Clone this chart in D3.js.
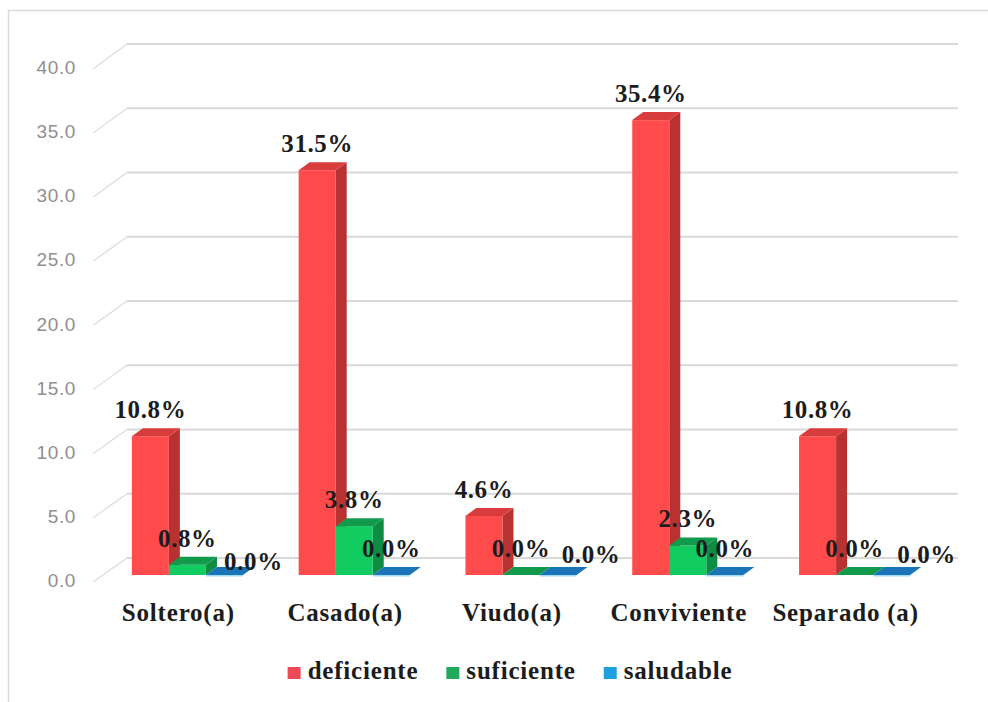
<!DOCTYPE html>
<html>
<head>
<meta charset="utf-8">
<script src="https://cdn.jsdelivr.net/npm/d3@7"></script>
<style>
  html, body { margin: 0; padding: 0; background: #fff; }
  svg { display: block; }
</style>
</head>
<body>
<svg id="chart" width="988" height="702"></svg>
<script>
// Estado civil vs. nivel (porcentajes)
const categories = ["Soltero(a)", "Casado(a)", "Viudo(a)", "Conviviente", "Separado (a)"];
const seriesNames = ["deficiente", "suficiente", "saludable"];
const deficiente = [10.8, 31.5, 4.6, 35.4, 10.8];
const suficiente = [0.8, 3.8, 0.0, 2.3, 0.0];
const saludable = [0.0, 0.0, 0.0, 0.0, 0.0];
const yTicks = [0, 5, 10, 15, 20, 25, 30, 35, 40];

const seriesValues = [deficiente, suficiente, saludable];

// face colours per series: front, side, top
const palette = {
  deficiente: { front: "#ff4b4b", side: "#b83232", top: "#d93c3c", legend: "#ec4a57" },
  suficiente: { front: "#12cc62", side: "#0e8c44", top: "#119a4c", legend: "#21a95c" },
  saludable:  { front: "#1e86c8", side: "#15649a", top: "#1b74b8", legend: "#1e9fe0" }
};

const svg = d3.select("#chart");

// outer frame
svg.append("rect")
  .attr("x", 8.5).attr("y", 10.5)
  .attr("width", 1000).attr("height", 720)
  .attr("fill", "#fff").attr("stroke", "#d9d9d9").attr("stroke-width", 1.5);

// scales: back wall, front axis plane, and the bars' own plane
const yBack = d3.scaleLinear().domain([0, 40]).range([558, 44]);
const yFront = d3.scaleLinear().domain([0, 40]).range([582, 69]);
const yBar = d3.scaleLinear().domain([0, 40]).range([575, 61]);

const x0 = d3.scaleBand().domain(categories).range([104, 938])
  .paddingInner(0.334).paddingOuter(0.167);
const x1 = d3.scaleBand().domain(seriesNames).range([0, x0.bandwidth()]);

const depthX = 11, depthY = -8;

// back-wall gridlines with the perspective stubs toward the tick labels
const grid = svg.append("g");
grid.selectAll("line.back").data(yTicks).join("line")
  .attr("class", "back")
  .attr("x1", 127).attr("x2", 958)
  .attr("y1", d => yBack(d)).attr("y2", d => yBack(d))
  .attr("stroke", "#d9d9d9").attr("stroke-width", 2);
grid.selectAll("line.stub").data(yTicks).join("line")
  .attr("class", "stub")
  .attr("x1", 93).attr("x2", 127)
  .attr("y1", d => yFront(d)).attr("y2", d => yBack(d))
  .attr("stroke", "#dcdcdc").attr("stroke-width", 1.2);

// y tick labels
svg.append("g").selectAll("text").data(yTicks).join("text")
  .attr("x", 76).attr("y", d => yFront(d))
  .attr("text-anchor", "end").attr("dominant-baseline", "middle")
  .attr("font-family", "'Liberation Sans', Arial, sans-serif")
  .attr("font-size", 19).attr("letter-spacing", 0.6)
  .attr("fill", "#8f8f8f")
  .text(d => d3.format(".1f")(d));

// bars: front face, right side face and top face
const bars = [];
categories.forEach((c, ci) => {
  seriesNames.forEach((s, si) => {
    bars.push({ cat: c, series: s, value: seriesValues[si][ci] });
  });
});

const barG = svg.append("g");
bars.forEach(b => {
  const xl = x0(b.cat) + x1(b.series);
  const w = x1.bandwidth();
  const yt = yBar(b.value);
  const yb = yBar(0);
  const col = palette[b.series];
  const g = barG.append("g");
  if (b.value > 0) {
    g.append("path")
      .attr("d", `M${xl + w},${yt} L${xl + w + depthX},${yt + depthY} L${xl + w + depthX},${yb + depthY} L${xl + w},${yb} Z`)
      .attr("fill", col.side);
    g.append("rect")
      .attr("x", xl).attr("y", yt).attr("width", w).attr("height", yb - yt)
      .attr("fill", col.front);
  }
  g.append("path")
    .attr("d", `M${xl},${yt} L${xl + w},${yt} L${xl + w + depthX},${yt + depthY} L${xl + depthX},${yt + depthY} Z`)
    .attr("fill", col.top);
  if (b.value === 0 && b.series === "saludable") {
    g.append("line")
      .attr("x1", xl).attr("x2", xl + w)
      .attr("y1", yb + 0.8).attr("y2", yb + 0.8)
      .attr("stroke", "#9fdcf5").attr("stroke-width", 1.5);
  }
});

// value labels; a few zero labels are nudged clear of their neighbours
const labelNudge = {
  "Soltero(a)|saludable": [29, 13],
  "Viudo(a)|saludable": [33, 6],
  "Separado (a)|saludable": [35, 6]
};
svg.append("g").selectAll("text").data(bars).join("text")
  .attr("x", d => x0(d.cat) + x1(d.series) + x1.bandwidth() / 2 + ((labelNudge[d.cat + "|" + d.series] || [0, 0])[0]))
  .attr("y", d => yBar(d.value) - 18 + ((labelNudge[d.cat + "|" + d.series] || [0, 0])[1]))
  .attr("text-anchor", "middle")
  .attr("font-family", "'Liberation Serif', 'Times New Roman', serif")
  .attr("font-weight", "bold").attr("font-size", 25).attr("letter-spacing", 0.6)
  .attr("fill", "#1c1c1c")
  .text(d => d3.format(".1f")(d.value) + "%");

// category labels
svg.append("g").selectAll("text").data(categories).join("text")
  .attr("x", d => x0(d) + x0.bandwidth() / 2 - 9)
  .attr("y", 621)
  .attr("text-anchor", "middle")
  .attr("font-family", "'Liberation Serif', 'Times New Roman', serif")
  .attr("font-weight", "bold").attr("font-size", 25).attr("letter-spacing", 0.8)
  .attr("fill", "#1c1c1c")
  .text(d => d);

// legend
const legend = svg.append("g");
let lx = 0;
seriesNames.forEach(s => {
  const item = legend.append("g").attr("transform", `translate(${lx},0)`);
  item.append("rect").attr("x", 0).attr("y", 667).attr("width", 13).attr("height", 12)
    .attr("fill", palette[s].legend);
  const t = item.append("text").attr("x", 20).attr("y", 679)
    .attr("font-family", "'Liberation Serif', 'Times New Roman', serif")
    .attr("font-weight", "bold").attr("font-size", 25).attr("letter-spacing", 0.8)
    .attr("fill", "#1c1c1c").text(s);
  lx += 20 + t.node().getComputedTextLength() + 28;
});
const legendWidth = lx - 28;
legend.attr("transform", `translate(${510 - legendWidth / 2},0)`);
</script>
</body>
</html>
